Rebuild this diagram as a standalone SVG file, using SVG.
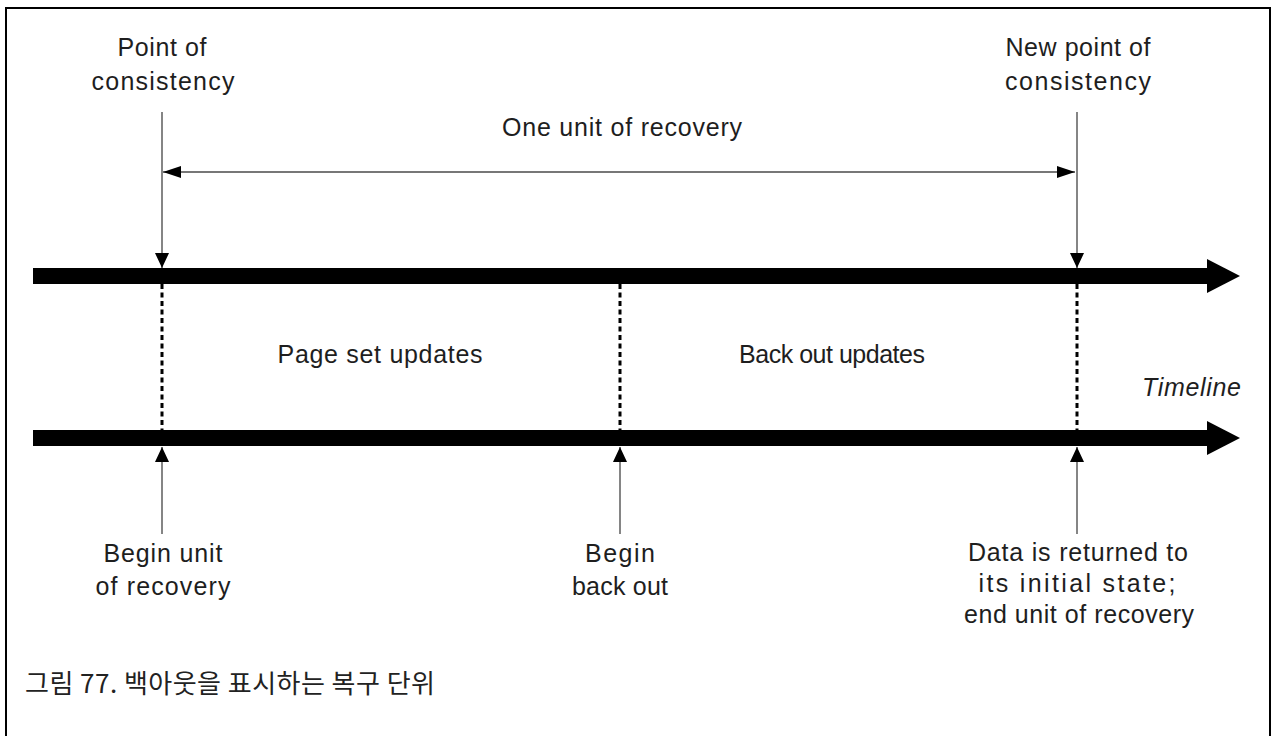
<svg xmlns="http://www.w3.org/2000/svg" width="1274" height="736" viewBox="0 0 1274 736">
<style>
.lbl{font-family:"Liberation Sans",Arial,sans-serif;font-size:25px;fill:#1e1e1e;text-anchor:middle}
.it{font-style:italic;text-anchor:start}
.cap{font-family:"Noto Sans CJK KR","Noto Sans",sans-serif;font-size:26px;fill:#222}
.pointer{stroke:#858585;stroke-width:2;fill:none}
.span{stroke:#4a4a4a;stroke-width:1.5;fill:none}
.dash{stroke:#000;stroke-width:3;stroke-dasharray:5 3.5;fill:none}
.bar{fill:#000}
</style>
<defs>
<marker id="ahv" viewBox="0 0 15 14" refX="15" refY="7" markerWidth="15" markerHeight="14" markerUnits="userSpaceOnUse" orient="auto">
<path d="M0,0 L15,7 L0,14 Z" fill="#000"/>
</marker>
<marker id="ahh" viewBox="0 0 18 12" refX="18" refY="6" markerWidth="18" markerHeight="12" markerUnits="userSpaceOnUse" orient="auto-start-reverse">
<path d="M0,0 L18,6 L0,12 Z" fill="#000"/>
</marker>
</defs>
<rect x="6" y="8" width="1264" height="800" fill="#fff" stroke="#000" stroke-width="2"/>

<g id="timeline-top">
<rect class="bar" x="33" y="268" width="1176" height="16"/>
<polygon class="bar" points="1207,259 1240,276 1207,293"/>
</g>
<g id="timeline-bottom">
<rect class="bar" x="33" y="430" width="1176" height="16"/>
<polygon class="bar" points="1207,421 1240,438 1207,455"/>
</g>

<g id="connectors">
<line class="pointer" x1="162" y1="112" x2="162" y2="268" marker-end="url(#ahv)"/>
<line class="pointer" x1="1077" y1="112" x2="1077" y2="268" marker-end="url(#ahv)"/>
<line class="span" x1="163" y1="172" x2="1075" y2="172" marker-start="url(#ahh)" marker-end="url(#ahh)"/>
<line class="dash" x1="162" y1="284" x2="162" y2="430"/>
<line class="dash" x1="620" y1="284" x2="620" y2="430"/>
<line class="dash" x1="1077" y1="284" x2="1077" y2="430"/>
<line class="pointer" x1="162" y1="534" x2="162" y2="447" marker-end="url(#ahv)"/>
<line class="pointer" x1="620" y1="534" x2="620" y2="447" marker-end="url(#ahv)"/>
<line class="pointer" x1="1077" y1="534" x2="1077" y2="447" marker-end="url(#ahv)"/>
</g>

<g id="point-of-consistency">
<text class="lbl" x="162" y="56" textLength="89">Point of</text>
<text class="lbl" x="163" y="90" textLength="143">consistency</text>
</g>
<g id="new-point-of-consistency">
<text class="lbl" x="1078" y="56" textLength="145">New point of</text>
<text class="lbl" x="1078" y="90" textLength="146">consistency</text>
</g>
<g id="unit-of-recovery">
<text class="lbl" x="622" y="136" textLength="240">One unit of recovery</text>
</g>
<g id="page-set-updates">
<text class="lbl" x="380" y="363" textLength="205">Page set updates</text>
</g>
<g id="back-out-updates">
<text class="lbl" x="832" y="363" textLength="186">Back out updates</text>
</g>
<g id="timeline-label">
<text class="lbl it" x="1142" y="396" textLength="99">Timeline</text>
</g>
<g id="begin-unit">
<text class="lbl" x="163" y="562" textLength="119">Begin unit</text>
<text class="lbl" x="163" y="595" textLength="135">of recovery</text>
</g>
<g id="begin-back-out">
<text class="lbl" x="620" y="562" textLength="70">Begin</text>
<text class="lbl" x="620" y="595" textLength="96">back out</text>
</g>
<g id="data-returned">
<text class="lbl" x="1078" y="561" textLength="220">Data is returned to</text>
<text class="lbl" x="1077" y="592" textLength="197">its initial state;</text>
<text class="lbl" x="1079" y="623" textLength="230">end unit of recovery</text>
</g>
<g id="caption">
<text class="cap" x="25" y="693" textLength="410">그림 77. 백아웃을 표시하는 복구 단위</text>
</g>
</svg>
